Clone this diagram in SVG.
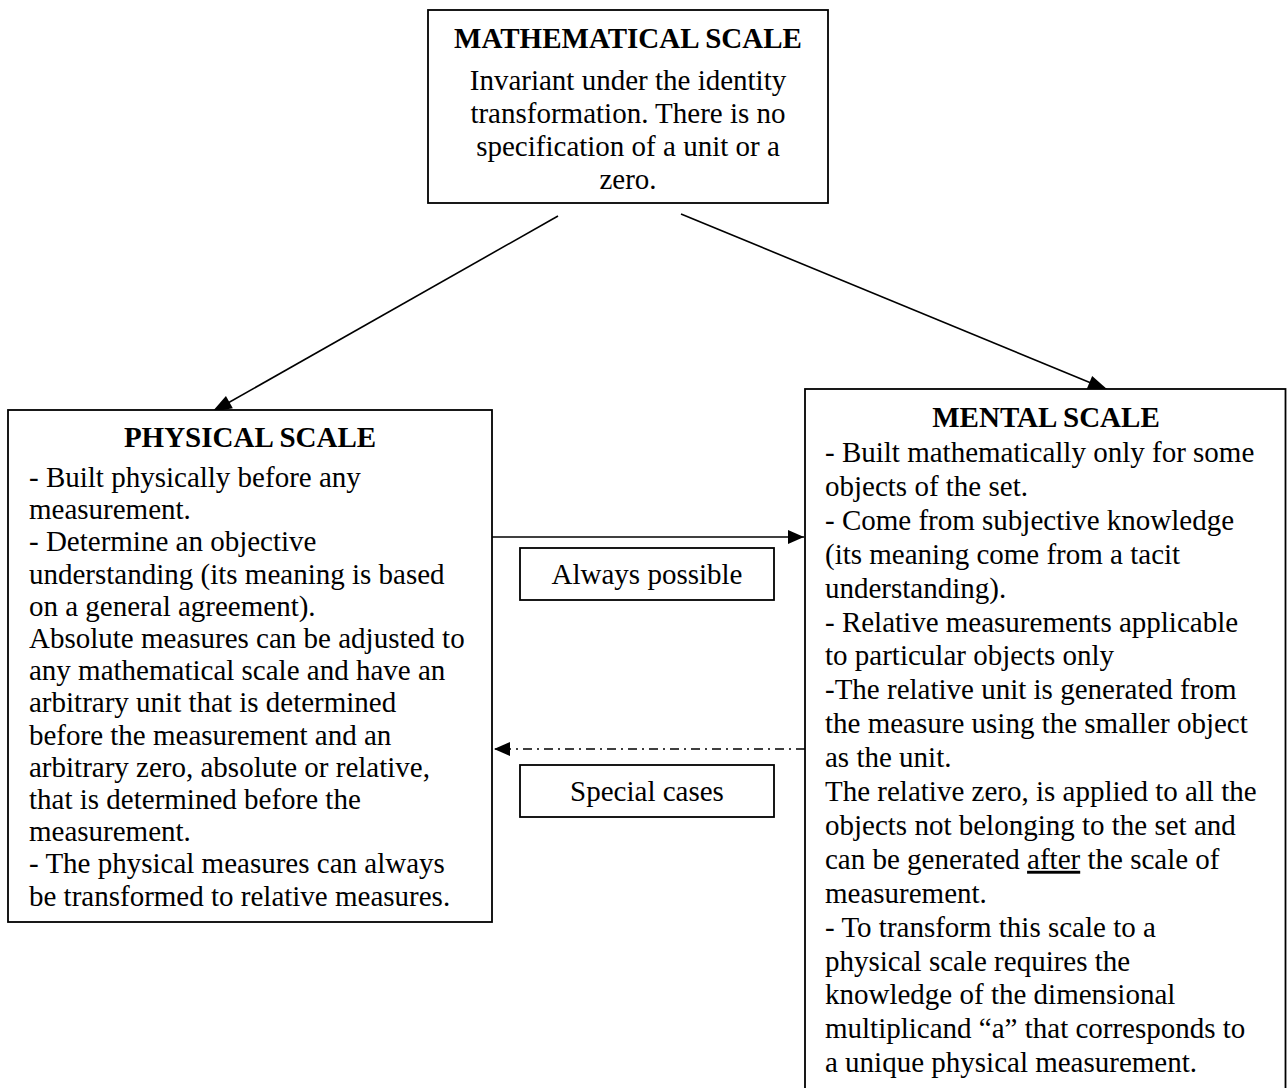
<svg xmlns="http://www.w3.org/2000/svg" width="1287" height="1088" viewBox="0 0 1287 1088">
<style>
.box{fill:#fff;stroke:#000;stroke-width:1.8}
.lbl{fill:#fff;stroke:#000;stroke-width:1.8}
.t{font-family:"Liberation Serif","Times New Roman",serif;font-size:29px;fill:#000}
.b{font-weight:bold}
.c{text-anchor:middle}
.ln{stroke:#000;stroke-width:1.6;fill:none}
.dd{stroke-dasharray:9 5 2 5}
</style>
<defs>
<marker id="ah" markerUnits="userSpaceOnUse" markerWidth="22" markerHeight="16" viewBox="-20 -8 21 16" refX="0" refY="0" orient="auto">
<path d="M0,0 L-20,-7 L-20,7 Z" fill="#000"/>
</marker>
<marker id="ahs" markerUnits="userSpaceOnUse" markerWidth="18" markerHeight="16" viewBox="-16 -8 17 16" refX="0" refY="0" orient="auto">
<path d="M0,0 L-16,-7 L-16,7 Z" fill="#000"/>
</marker>
</defs>
<g id="connectors">
<line class="ln" x1="558" y1="216" x2="212" y2="412" marker-end="url(#ah)"/>
<line class="ln" x1="681" y1="214" x2="1108" y2="390" marker-end="url(#ah)"/>
<line class="ln" x1="492" y1="537" x2="804" y2="537" marker-end="url(#ahs)"/>
<line class="ln dd" x1="805" y1="749" x2="494" y2="749" marker-end="url(#ahs)"/>
</g>
<g id="math">
<rect class="box" x="428" y="10" width="400" height="193"/>
<text class="t b c" x="628" y="48">MATHEMATICAL SCALE</text>
<text class="t c" x="628" y="89.5">Invariant under the identity</text>
<text class="t c" x="628" y="122.5">transformation. There is no</text>
<text class="t c" x="628" y="155.5">specification of a unit or a</text>
<text class="t c" x="628" y="188.5">zero.</text>
</g>
<g id="physical">
<rect class="box" x="8" y="410" width="484" height="512"/>
<text class="t b c" x="250" y="447">PHYSICAL SCALE</text>
<text class="t" x="29" y="487">- Built physically before any</text>
<text class="t" x="29" y="519.2">measurement.</text>
<text class="t" x="29" y="551.4">- Determine an objective</text>
<text class="t" x="29" y="583.6">understanding (its meaning is based</text>
<text class="t" x="29" y="615.8">on a general agreement).</text>
<text class="t" x="29" y="648">Absolute measures can be adjusted to</text>
<text class="t" x="29" y="680.2">any mathematical scale and have an</text>
<text class="t" x="29" y="712.4">arbitrary unit that is determined</text>
<text class="t" x="29" y="744.6">before the measurement and an</text>
<text class="t" x="29" y="776.8">arbitrary zero, absolute or relative,</text>
<text class="t" x="29" y="809">that is determined before the</text>
<text class="t" x="29" y="841.2">measurement.</text>
<text class="t" x="29" y="873.4">- The physical measures can always</text>
<text class="t" x="29" y="905.6">be transformed to relative measures.</text>
</g>
<g id="mental">
<rect class="box" x="805" y="389" width="480.5" height="720"/>
<text class="t b c" x="1046" y="427">MENTAL SCALE</text>
<text class="t" x="825" y="462">- Built mathematically only for some</text>
<text class="t" x="825" y="495.9">objects of the set.</text>
<text class="t" x="825" y="529.8">- Come from subjective knowledge</text>
<text class="t" x="825" y="563.7">(its meaning come from a tacit</text>
<text class="t" x="825" y="597.6">understanding).</text>
<text class="t" x="825" y="631.5">- Relative measurements applicable</text>
<text class="t" x="825" y="665.4">to particular objects only</text>
<text class="t" x="825" y="699.3">-The relative unit is generated from</text>
<text class="t" x="825" y="733.2">the measure using the smaller object</text>
<text class="t" x="825" y="767.1">as the unit.</text>
<text class="t" x="825" y="801">The relative zero, is applied to all the</text>
<text class="t" x="825" y="834.9">objects not belonging to the set and</text>
<text class="t" x="825" y="868.8">can be generated <tspan text-decoration="underline">after</tspan> the scale of</text>
<text class="t" x="825" y="902.7">measurement.</text>
<text class="t" x="825" y="936.6">- To transform this scale to a</text>
<text class="t" x="825" y="970.5">physical scale requires the</text>
<text class="t" x="825" y="1004.4">knowledge of the dimensional</text>
<text class="t" x="825" y="1038.3">multiplicand “a” that corresponds to</text>
<text class="t" x="825" y="1072.2">a unique physical measurement.</text>
</g>
<g id="label-always">
<rect class="lbl" x="520" y="548" width="254" height="52"/>
<text class="t c" x="647" y="584">Always possible</text>
</g>
<g id="label-special">
<rect class="lbl" x="520" y="765" width="254" height="52"/>
<text class="t c" x="647" y="801">Special cases</text>
</g>
</svg>
